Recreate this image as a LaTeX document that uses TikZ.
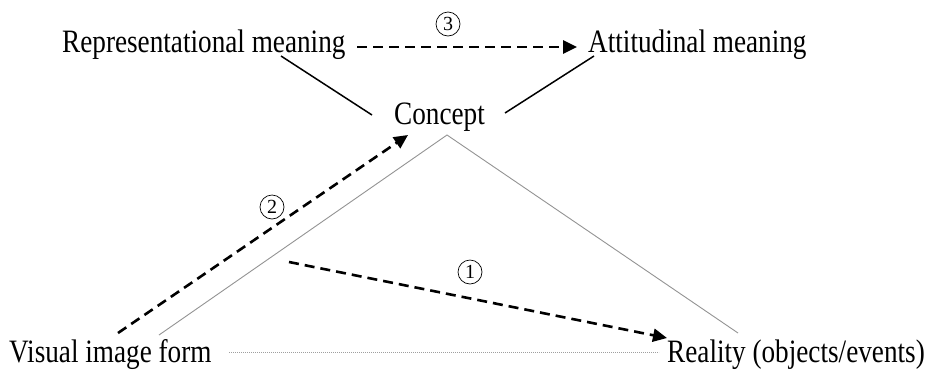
\documentclass[tikz,border=0pt]{standalone}
\usepackage{fontspec}
\usepackage{graphicx}
\setmainfont{Liberation Serif}
\usetikzlibrary{arrows.meta}
% tall, narrow serif lettering
\newcommand{\tallword}[1]{\scalebox{1}[1.2]{#1}}
\tikzset{
  lbl/.style={inner sep=0pt, anchor=base west, font=\fontsize{27.2}{30}\selectfont},
  num/.style={circle, draw, line width=0.7pt, inner sep=0pt, minimum size=24pt,
              font=\fontsize{20}{20}\selectfont},
  flow/.style={line width=2.6pt, dash pattern=on 10pt off 6pt,
               -{Triangle[length=14pt,width=13pt]}},
  link/.style={line width=1.5pt},
  side/.style={draw=gray!85, line width=0.9pt},
  baseline rule/.style={draw=gray!75, line width=1pt, dash pattern=on 1.2pt off 0.8pt}
}
\begin{document}
\begin{tikzpicture}[x=1pt,y=-1pt]
  \useasboundingbox (0,0) rectangle (926,373);

  % labels
  \node[lbl] (rep) at (62,52)   {\tallword{Representational meaning}};
  \node[lbl] (att) at (588,52)  {\tallword{Attitudinal meaning}};
  \node[lbl] (con) at (394,124) {\tallword{Concept}};
  \node[lbl] (vis) at (9,362)   {\tallword{Visual image form}};
  \node[lbl] (rea) at (667,362) {\tallword{Reality (objects/events)}};

  % step numbers
  \node[num] (n3) at (448,24)  {3};
  \node[num] (n2) at (272,207) {2};
  \node[num] (n1) at (470,272) {1};

  % triangle corners and free connector ends
  \coordinate (apex) at (447,135);
  \coordinate (lf)   at (159,335);
  \coordinate (rf)   at (738,333);
  \coordinate (repA) at (281,56);
  \coordinate (repB) at (372,115);
  \coordinate (attA) at (594,56);
  \coordinate (attB) at (505,113);
  \coordinate (a2s)  at (118,333);
  \coordinate (a2e)  at (408,135);
  \coordinate (a1s)  at (289,262);
  \coordinate (a1e)  at (667,338);
  \coordinate (a3s)  at (357,47);
  \coordinate (a3e)  at (577,47);
  \coordinate (bl)   at (229,352);
  \coordinate (br)   at (659,352);

  % semiotic triangle
  \draw[side] (lf) -- (apex) -- (rf);
  \draw[baseline rule] (bl) -- (br);

  % meaning links
  \draw[link] (repA) -- (repB);
  \draw[link] (attA) -- (attB);

  % numbered flows
  \draw[flow] (a3s) -- (a3e);
  \draw[flow] (a2s) -- (a2e);
  \draw[flow] (a1s) -- (a1e);
\end{tikzpicture}
\end{document}
